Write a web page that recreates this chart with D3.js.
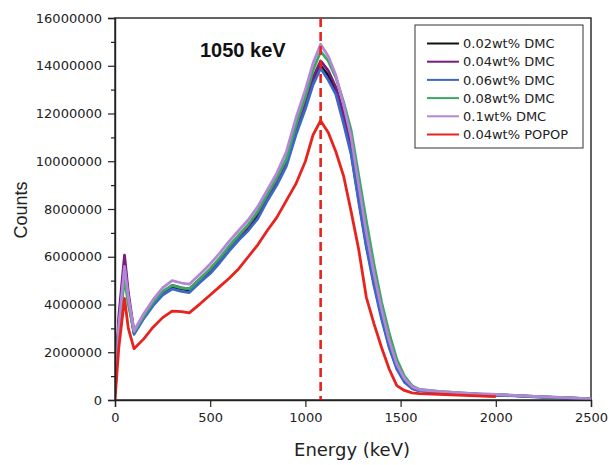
<!DOCTYPE html>
<html>
<head>
<meta charset="utf-8">
<script src="https://cdn.jsdelivr.net/npm/d3@7"></script>
<style>
  body { margin: 0; background: #fff; }
  text { font-family: "DejaVu Sans", sans-serif; fill: #222; }
</style>
</head>
<body>
<div id="chart"></div>
<script>
// energy grid (keV)
const energy = [0, 20, 50, 70, 100, 150, 200, 250, 300, 350, 390, 450, 500, 550, 600, 650, 700, 750, 800, 850,
  900, 950, 1000, 1040, 1080, 1120, 1160, 1200, 1240, 1280, 1320, 1360, 1400, 1440, 1480, 1520, 1560, 1600,
  1700, 1800, 1900, 2000, 2100, 2200, 2300, 2400, 2500]

// counts, in millions
const dmc002 = [0.3, 3.2, 5.7, 4.3, 2.8, 3.5, 4.05, 4.5, 4.75, 4.65, 4.6, 5.05, 5.4, 5.85, 6.35, 6.8, 7.2, 7.75, 8.45, 9.1,
  9.9, 11.2, 12.4, 13.4, 14.0, 13.6, 12.9, 11.7, 10.4, 8.4, 6.5, 4.9, 3.5, 2.25, 1.35, 0.78, 0.5, 0.39,
  0.33, 0.28, 0.24, 0.21, 0.18, 0.14, 0.11, 0.08, 0.05]
const dmc004 = [0.3, 3.5, 6.07, 4.5, 2.85, 3.5, 4.05, 4.5, 4.8, 4.7, 4.65, 5.1, 5.45, 5.9, 6.4, 6.85, 7.3, 7.85, 8.5, 9.2,
  10.0, 11.3, 12.5, 13.5, 14.2, 13.8, 13.1, 12.0, 10.7, 8.7, 6.8, 5.1, 3.7, 2.4, 1.45, 0.85, 0.53, 0.41,
  0.34, 0.29, 0.25, 0.22, 0.18, 0.15, 0.11, 0.08, 0.05]
const dmc006 = [0.3, 3.0, 5.45, 4.2, 2.75, 3.4, 3.95, 4.4, 4.65, 4.55, 4.5, 4.95, 5.3, 5.75, 6.25, 6.7, 7.1, 7.6, 8.35, 9.0,
  9.8, 11.1, 12.2, 13.2, 13.9, 13.4, 12.8, 11.6, 10.3, 8.3, 6.4, 4.8, 3.4, 2.2, 1.3, 0.75, 0.48, 0.38,
  0.32, 0.27, 0.23, 0.2, 0.17, 0.13, 0.1, 0.07, 0.04]
const dmc008 = [0.3, 2.9, 5.1, 4.0, 2.85, 3.5, 4.1, 4.55, 4.8, 4.7, 4.65, 5.1, 5.5, 5.95, 6.45, 6.9, 7.35, 7.9, 8.6, 9.3,
  10.1, 11.5, 12.7, 13.8, 14.6, 14.2, 13.5, 12.5, 11.3, 9.4, 7.5, 5.7, 4.1, 2.8, 1.7, 1.0, 0.6, 0.44,
  0.36, 0.31, 0.26, 0.23, 0.19, 0.15, 0.12, 0.09, 0.05]
const dmc01 = [0.3, 3.1, 5.6, 4.3, 2.9, 3.6, 4.2, 4.7, 5.0, 4.9, 4.85, 5.3, 5.7, 6.15, 6.65, 7.1, 7.55, 8.1, 8.8, 9.5,
  10.4, 11.8, 13.0, 14.1, 14.9, 14.4, 13.6, 12.4, 11.0, 9.0, 7.0, 5.3, 3.8, 2.5, 1.5, 0.9, 0.56, 0.43,
  0.36, 0.31, 0.26, 0.23, 0.19, 0.15, 0.12, 0.09, 0.05]
const popop004 = [0, 2.2, 4.25, 3.0, 2.15, 2.55, 3.05, 3.45, 3.72, 3.7, 3.65, 4.05, 4.4, 4.75, 5.1, 5.5, 6.0, 6.5, 7.1, 7.65,
  8.35, 9.05, 10.0, 11.1, 11.7, 11.2, 10.4, 9.4, 7.9, 6.3, 4.3, 3.2, 2.2, 1.3, 0.6, 0.4, 0.3, 0.27,
  0.24, 0.2, 0.17, 0.14]

const seriesNames = ["0.02wt% DMC", "0.04wt% DMC", "0.06wt% DMC", "0.08wt% DMC", "0.1wt% DMC", "0.04wt% POPOP"]
const seriesColors = ["#111111", "#7a1b7e", "#3b67c6", "#3ba862", "#b386d6", "#e8231d"]
const seriesValues = [dmc002, dmc004, dmc006, dmc008, dmc01, popop004]

const xTicks = [0, 500, 1000, 1500, 2000, 2500]
const peakEnergy = 1080
const peakLabel = "1050 keV"

const width = 609
const height = 465
const margin = {top: 18, right: 18, bottom: 65, left: 115}

const svg = d3.select("#chart")
  .append("svg")
  .attr("width", width)
  .attr("height", height)

const x = d3.scaleLinear().domain([0, 2500]).range([margin.left, width - margin.right])
const y = d3.scaleLinear().domain([0, 16000000]).range([height - margin.bottom, margin.top])

// plot frame
svg.append("rect")
  .attr("x", x(0)).attr("y", y(16000000))
  .attr("width", x(2500) - x(0)).attr("height", y(0) - y(16000000))
  .attr("fill", "none").attr("stroke", "#222").attr("stroke-width", 1.4)

svg.append("clipPath").attr("id", "clip")
  .append("rect")
  .attr("x", x(0)).attr("y", y(16000000))
  .attr("width", x(2500) - x(0)).attr("height", y(0) - y(16000000))

const lineGroup = svg.append("g").attr("clip-path", "url(#clip)")

const line = d3.line()
  .x(d => x(d[0]))
  .y(d => y(d[1] * 1e6))

seriesValues.forEach((vals, i) => {
  const pts = vals.map((v, j) => [energy[j], v])
  lineGroup.append("path")
    .datum(pts)
    .attr("fill", "none")
    .attr("stroke", seriesColors[i])
    .attr("stroke-width", 2.8)
    .attr("stroke-linejoin", "round")
    .attr("d", line)
})

// peak marker
svg.append("line")
  .attr("x1", x(peakEnergy)).attr("x2", x(peakEnergy))
  .attr("y1", y(16000000)).attr("y2", y(0))
  .attr("stroke", "#e8231d")
  .attr("stroke-width", 2.6)
  .attr("stroke-dasharray", "9,5")

svg.append("text")
  .attr("x", 200).attr("y", 57)
  .style("font-family", "'Liberation Sans', Arial, sans-serif")
  .style("font-weight", "bold")
  .style("font-size", "20px")
  .style("fill", "#111")
  .text(peakLabel)

// axes
const xAxis = d3.axisBottom(x).tickValues(xTicks).tickSize(7).tickPadding(6).tickFormat(d3.format("d"))
const yAxis = d3.axisLeft(y).tickValues(d3.range(0, 16000001, 2000000)).tickSize(7).tickPadding(6).tickFormat(d3.format("d"))
const yMinor = d3.axisLeft(y).tickValues(d3.range(1000000, 16000000, 2000000)).tickSize(4).tickFormat("")

svg.append("g")
  .attr("transform", `translate(0, ${y(0)})`)
  .call(xAxis)
svg.append("g")
  .attr("transform", `translate(${x(0)}, 0)`)
  .call(yAxis)
svg.append("g")
  .attr("transform", `translate(${x(0)}, 0)`)
  .call(yMinor)
  .select(".domain").remove()

svg.selectAll(".domain").attr("stroke", "#222").attr("stroke-width", 1.4)
svg.selectAll(".tick line").attr("stroke", "#222").attr("stroke-width", 1.2)
svg.selectAll(".tick text")
  .style("font-family", "'DejaVu Sans', sans-serif")
  .style("font-size", "13px")
  .style("fill", "#222")

// axis titles
svg.append("text")
  .attr("x", 352).attr("y", 456)
  .attr("text-anchor", "middle")
  .style("font-size", "18px")
  .text("Energy (keV)")

svg.append("text")
  .attr("transform", `translate(27, 210) rotate(-90)`)
  .attr("text-anchor", "middle")
  .style("font-family", "'Liberation Sans', Arial, sans-serif")
  .style("font-size", "18px")
  .text("Counts")

// legend
const legend = svg.append("g").attr("transform", "translate(415, 25)")
legend.append("rect")
  .attr("width", 168).attr("height", 123)
  .attr("fill", "#fff").attr("stroke", "#333").attr("stroke-width", 1)

seriesNames.forEach((name, i) => {
  const cy = 18.5 + i * 18.2
  legend.append("line")
    .attr("x1", 12).attr("x2", 44)
    .attr("y1", cy).attr("y2", cy)
    .attr("stroke", seriesColors[i]).attr("stroke-width", 2)
  legend.append("text")
    .attr("x", 48).attr("y", cy + 4.7)
    .style("font-size", "13px")
    .text(name)
})
</script>
</body>
</html>
